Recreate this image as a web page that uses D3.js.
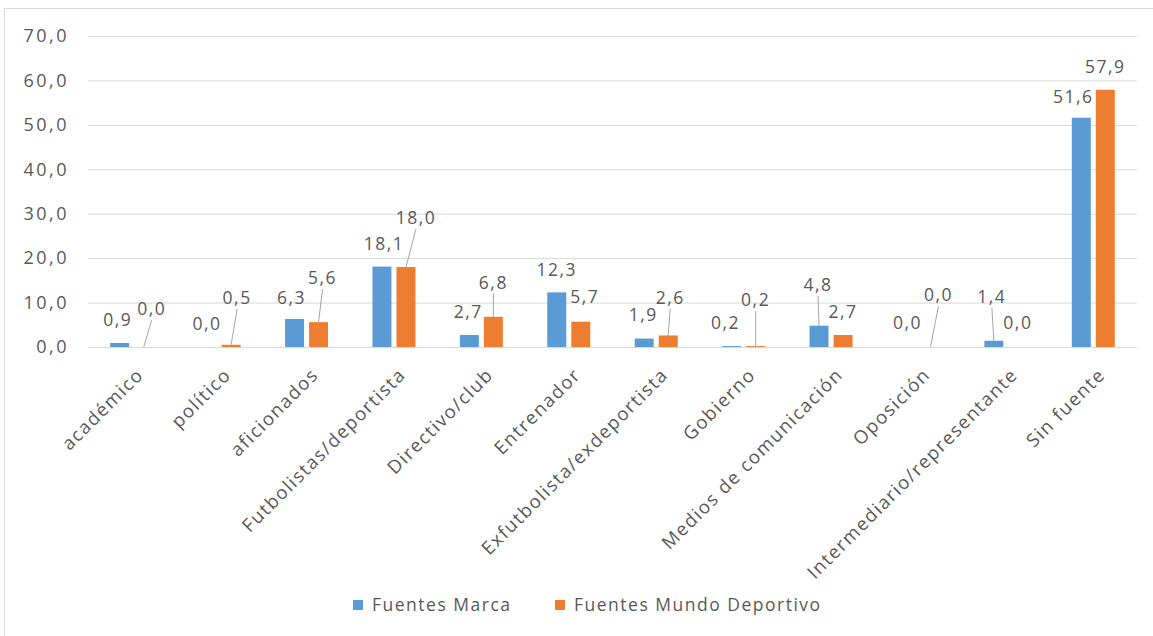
<!DOCTYPE html>
<html>
<head>
<meta charset="utf-8">
<script src="https://cdn.jsdelivr.net/npm/d3@7"></script>
<style>
  body { margin: 0; background: #fff; }
  text { font-family: "Open Sans", sans-serif; fill: #595959; letter-spacing: 1.5px; }
</style>
</head>
<body>
<div id="chart"></div>
<script>
// data
const categories = ["académico", "político", "aficionados", "Futbolistas/deportista",
  "Directivo/club", "Entrenador", "Exfutbolista/exdeportista", "Gobierno",
  "Medios de comunicación", "Oposición", "Intermediario/representante", "Sin fuente"];
const seriesNames = ["Fuentes Marca", "Fuentes Mundo Deportivo"];
const marca = [0.9, 0.0, 6.3, 18.1, 2.7, 12.3, 1.9, 0.2, 4.8, 0.0, 1.4, 51.6];
const mundo = [0.0, 0.5, 5.6, 18.0, 6.8, 5.7, 2.6, 0.2, 2.7, 0.0, 0.0, 57.9];
const yTicks = [0, 10, 20, 30, 40, 50, 60, 70];

// where excel left the data labels (px offset from bar top), and which have a leader line
const marcaLabelPos = [[-2,-23],[0,-23],[-3,-21],[2,-23],[-1,-23],[0,-22],[-1,-24],[-6,-23],[-1,-41],[1,-24],[-2,-44],[-8,-21]];
const mundoLabelPos = [[8,-38],[6,-47],[4,-44],[10,-49],[0,-34],[4,-25],[2,-38],[0,-46],[0,-23],[8,-52],[0,-24],[0,-23]];
const marcaLeader = [false,false,false,false,false,false,false,false,true,false,true,false];
const mundoLeader = [true,true,true,true,true,false,true,true,false,true,false,false];

const colors = ["#5B9BD5", "#ED7D31"];

const W = 1153, H = 636;
const plot = {left: 88, right: 1137, top: 36, bottom: 347};

const svg = d3.select("#chart").append("svg")
    .attr("width", W)
    .attr("height", H);

// chart border
svg.append("rect")
    .attr("x", 4.5).attr("y", 8.5)
    .attr("width", W + 10).attr("height", H + 10)
    .attr("fill", "none")
    .attr("stroke", "#d9d9d9");

const fmt = d3.formatLocale({decimal: ",", thousands: ".", grouping: [3], currency: ["", ""]}).format(".1f");

const x0 = d3.scaleBand()
    .domain(categories)
    .range([plot.left, plot.right])
    .paddingInner(0.508)
    .paddingOuter(0.254);

const x1 = d3.scaleBand()
    .domain(seriesNames)
    .range([0, x0.bandwidth()])
    .paddingInner(0.21);

const y = d3.scaleLinear()
    .domain([0, 70])
    .range([plot.bottom, plot.top]);

// gridlines + y labels
const yAxis = d3.axisLeft(y)
    .tickValues(yTicks)
    .tickSize(-(plot.right - plot.left))
    .tickPadding(19)
    .tickFormat(fmt);

svg.append("g")
    .attr("transform", `translate(${plot.left},0)`)
    .call(yAxis)
    .call(g => g.select(".domain").remove())
    .call(g => g.selectAll("line").attr("stroke", "#d9d9d9"))
    .call(g => g.selectAll("text")
        .attr("font-size", 18)
        .style("font-family", "'Open Sans', sans-serif")
        .style("letter-spacing", "2.5px")
        .attr("fill", "#595959"));

// category labels, rotated
const xAxis = d3.axisBottom(x0).tickSize(0).tickPadding(0);
svg.append("g")
    .attr("transform", `translate(0,${plot.bottom})`)
    .call(xAxis)
    .call(g => g.select(".domain").remove())
    .call(g => g.selectAll("text")
        .attr("font-size", 18.5)
        .style("font-family", "'Open Sans', sans-serif")
        .attr("fill", "#595959")
        .attr("text-anchor", "end")
        .attr("y", 0).attr("dy", 0)
        .attr("transform", "translate(13,29) rotate(-45)"));

const series = [marca, mundo];
const labelPos = [marcaLabelPos, mundoLabelPos];
const leaders = [marcaLeader, mundoLeader];

series.forEach((vals, s) => {
  const rows = categories.map((c, i) => ({c, i, v: vals[i]}));
  const bx = d => x0(d.c) + x1(seriesNames[s]) + x1.bandwidth() / 2;

  svg.append("g")
    .selectAll("rect")
    .data(rows)
    .join("rect")
      .attr("x", d => x0(d.c) + x1(seriesNames[s]))
      .attr("y", d => y(d.v))
      .attr("width", x1.bandwidth())
      .attr("height", d => y(0) - y(d.v))
      .attr("fill", colors[s]);

  // leader lines
  svg.append("g")
    .selectAll("line")
    .data(rows.filter(d => leaders[s][d.i]))
    .join("line")
      .attr("x1", d => bx(d))
      .attr("y1", d => y(d.v))
      .attr("x2", d => bx(d) + labelPos[s][d.i][0])
      .attr("y2", d => y(d.v) + labelPos[s][d.i][1] + 11)
      .attr("stroke", "#a6a6a6")
      .attr("stroke-width", 1);

  svg.append("g")
    .selectAll("text")
    .data(rows)
    .join("text")
      .attr("x", d => bx(d) + labelPos[s][d.i][0])
      .attr("y", d => y(d.v) + labelPos[s][d.i][1])
      .attr("dy", "0.35em")
      .attr("text-anchor", "middle")
      .attr("font-size", 17.5)
      .text(d => fmt(d.v));
});

// legend
const legendX = [353, 555];
const legend = svg.append("g");
seriesNames.forEach((name, s) => {
  legend.append("rect")
    .attr("x", legendX[s]).attr("y", 600)
    .attr("width", 10).attr("height", 10)
    .attr("fill", colors[s]);
  legend.append("text")
    .attr("x", legendX[s] + 19).attr("y", 605)
    .attr("dy", "0.35em")
    .attr("font-size", 17.5)
    .text(name);
});
</script>
</body>
</html>
